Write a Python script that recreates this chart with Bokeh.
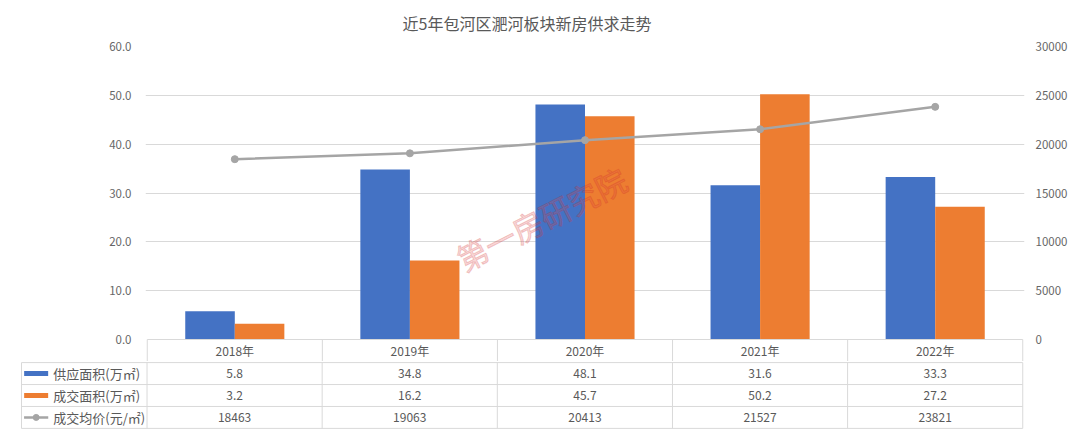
from bokeh.plotting import figure
from bokeh.models import Range1d, LinearAxis, FixedTicker, ColumnDataSource, PrintfTickFormatter
from bokeh.transform import dodge
from bokeh.embed import file_html
from bokeh.resources import INLINE
from bokeh.core.properties import value

# ---- data ----
years = ["2018年", "2019年", "2020年", "2021年", "2022年"]
supply = [5.8, 34.8, 48.1, 31.6, 33.3]
deal = [3.2, 16.2, 45.7, 50.2, 27.2]
price = [18463, 19063, 20413, 21527, 23821]
series_names = ["供应面积(万㎡)", "成交面积(万㎡)", "成交均价(元/㎡)"]
left_ticks = [0, 10, 20, 30, 40, 50, 60]
right_ticks = [0, 5000, 10000, 15000, 20000, 25000, 30000]
title_text = "近5年包河区淝河板块新房供求走势"
watermark = "第一房研究院"

FONT = "Noto Sans CJK SC"
BLUE = "#4472C4"
ORANGE = "#ED7D31"
GRAY = "#A5A5A5"
GRID = "#D9D9D9"
TXT = "#595959"

n = len(years)
idx = list(range(n))
bar_w = 0.283
ymin = -4.505

src = ColumnDataSource(dict(x=idx, years=years, supply=supply, deal=deal, price=price))

top = figure(width=1080, height=361, x_range=Range1d(-0.51, n - 0.49), y_range=Range1d(ymin, 60),
             output_backend="svg", toolbar_location=None, x_axis_type=None,
             min_border_left=145, min_border_right=56, min_border_top=46, min_border_bottom=0)
top.outline_line_color = None
top.xgrid.visible = False
top.ygrid.ticker = FixedTicker(ticks=left_ticks[1:])
top.ygrid.grid_line_color = GRID
top.title.text = title_text
top.title.align = "left"
top.title.vertical_align = "top"
top.title.offset = 257
top.title.text_font = FONT
top.title.text_font_size = "16px"
top.title.text_font_style = "normal"
top.title.text_color = TXT
top.title.standoff = 20

ya = top.yaxis[0]
ya.ticker = FixedTicker(ticks=left_ticks)
ya.formatter = PrintfTickFormatter(format="%.1f")
ya.axis_line_color = None
ya.major_tick_line_color = None
ya.minor_tick_line_color = None
ya.major_label_standoff = 8
ya.major_label_text_font = FONT
ya.major_label_text_font_size = "11.5px"
ya.major_label_text_color = "#666666"

top.extra_y_ranges = {"p": Range1d(ymin * 500, 30000)}
ra = LinearAxis(y_range_name="p", ticker=FixedTicker(ticks=right_ticks))
ra.axis_line_color = None
ra.major_tick_line_color = None
ra.minor_tick_line_color = None
ra.major_label_standoff = 5
ra.major_label_text_font = FONT
ra.major_label_text_font_size = "11.5px"
ra.major_label_text_color = "#666666"
top.add_layout(ra, "right")

top.vbar(x=dodge("x", -bar_w / 2, range=top.x_range), top="supply", bottom=0, width=bar_w,
         source=src, fill_color=BLUE, line_color=None)
top.vbar(x=dodge("x", bar_w / 2, range=top.x_range), top="deal", bottom=0, width=bar_w,
         source=src, fill_color=ORANGE, line_color=None)
top.line("x", "price", source=src, y_range_name="p", line_color=GRAY, line_width=2.5)
top.scatter("x", "price", source=src, y_range_name="p", size=7, fill_color=GRAY, line_color=GRAY)

# header row of data table
edges = [i - 0.5 for i in range(n + 1)]
top.segment(x0=[-0.5], y0=[0], x1=[n - 0.5], y1=[0], line_color=GRID, line_width=1)
top.segment(x0=edges, y0=[0] * len(edges), x1=edges, y1=[ymin] * len(edges), line_color=GRID, line_width=1)
top.text(x="x", y=ymin / 2, text="years", source=src, text_align="center", text_baseline="middle",
         text_font=value(FONT), text_font_size="12px", text_color=TXT)

# watermark
top.text(x=[1.75], y=[24.8], text=[watermark], angle=0.47, text_align="center", text_baseline="middle",
         text_font=value(FONT), text_font_size="31px", text_color="#e04848", text_alpha=0.22,
         text_outline_color="#c81e1e")

# ---- data table rows ----
x_left = -1.2224
bot = figure(width=1080, height=68, x_range=Range1d(x_left, n - 0.49), y_range=Range1d(-0.05, 3.05),
             output_backend="svg", toolbar_location=None, x_axis_type=None, y_axis_type=None,
             min_border_left=20, min_border_right=56, min_border_top=0, min_border_bottom=0)
bot.outline_line_color = None

lb = -1.2167
rows_y = [3, 2, 1, 0]
bot.segment(x0=[lb] * 4, y0=rows_y, x1=[n - 0.5] * 4, y1=rows_y, line_color=GRID, line_width=1)
vx = [lb] + edges
bot.segment(x0=vx, y0=[0] * len(vx), x1=vx, y1=[3] * len(vx), line_color=GRID, line_width=1)

row_vals = [[f"{v:.1f}" for v in supply], [f"{v:.1f}" for v in deal], [str(v) for v in price]]
for r, vals in enumerate(row_vals):
    yc = 2.5 - r
    bot.text(x=idx, y=[yc] * n, text=vals, text_align="center", text_baseline="middle",
             text_font=value(FONT), text_font_size="12px", text_color=TXT)
    bot.text(x=[-1.035], y=[yc], text=[series_names[r]], text_align="left", text_baseline="middle",
             text_font=value(FONT), text_font_size="13px", text_color=TXT)

bot.rect(x=[-1.133], y=[2.5], width=24, height=5, width_units="screen", height_units="screen",
         fill_color=BLUE, line_color=None)
bot.rect(x=[-1.133], y=[1.5], width=24, height=5, width_units="screen", height_units="screen",
         fill_color=ORANGE, line_color=None)
bot.line(x=[-1.202, -1.064], y=[0.5, 0.5], line_color=GRAY, line_width=2.5)
bot.scatter(x=[-1.133], y=[0.5], size=6, fill_color=GRAY, line_color=GRAY)

open("out.html", "w").write(file_html([top, bot], INLINE))
